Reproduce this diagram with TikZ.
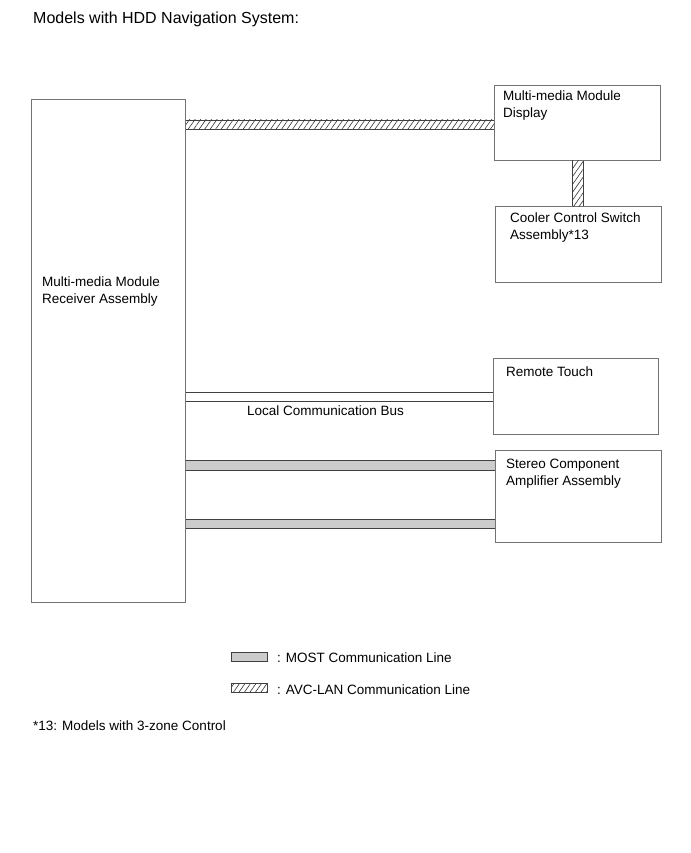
\documentclass[tikz,border=0pt]{standalone}
\usepackage{fontspec}
\setmainfont{Liberation Sans}
\usetikzlibrary{patterns,patterns.meta,calc}
\begin{document}
\begin{tikzpicture}[x=1pt,y=-1pt,
  box/.style={draw=black!55, line width=0.8pt, anchor=north west, inner sep=0pt},
  lbl/.style={anchor=north west, inner sep=0pt, font=\fontsize{13.5}{16.5}\selectfont, align=left},
  txt/.style={anchor=base west, inner sep=0pt, font=\fontsize{13.5}{16.5}\selectfont},
  wire/.style={draw=black!75, line width=0.9pt},
  most/.style={fill=black!20},
  avc/.style={pattern={Lines[angle=55, distance=4.5pt, line width=0.6pt]}, pattern color=black!80}]
\useasboundingbox (0,0) rectangle (690,853);
\node[anchor=base west, inner sep=0pt, font=\fontsize{16}{18}\selectfont] (title) at (33,23.8) {Models with HDD Navigation System:};
% boxes
\node[box, minimum width=154pt, minimum height=503pt] (rec) at (31,99) {};
\node[box, minimum width=166pt, minimum height=75pt] (disp) at (494,85) {};
\node[box, minimum width=166pt, minimum height=76pt] (cool) at (495,206) {};
\node[box, minimum width=165pt, minimum height=76pt] (rt) at (493,358) {};
\node[box, minimum width=166pt, minimum height=92pt] (st) at (495,450) {};
% labels
\node[lbl] (recl) at (42,277) {Multi-media Module\\Receiver Assembly};
\node[lbl] (displ) at (503,91) {Multi-media Module\\Display};
\node[lbl] (cooll) at (510,213) {Cooler Control Switch\\Assembly*13};
\node[txt] (rtl) at (506,376) {Remote Touch};
\node[lbl] (stl) at (506,459) {Stereo Component\\Amplifier Assembly};
% AVC horizontal
\coordinate (a1) at (rec.east |- 0,120);
\coordinate (a2) at (disp.west |- 0,129);
\path[avc] (a1) rectangle (a2);
\draw[wire] (a1) -- (a1 -| a2);
\draw[wire] (a2 -| a1) -- (a2);
% AVC vertical
\coordinate (v1) at (572,0 |- disp.south);
\coordinate (v2) at (583,0 |- cool.north);
\path[avc] (v1) rectangle (v2);
\draw[wire] (v1) -- (v1 |- v2);
\draw[wire] (v2 |- v1) -- (v2);
% local bus
\draw[wire] (rec.east |- 0,392) -- (rt.west |- 0,392);
\draw[wire] (rec.east |- 0,401) -- (rt.west |- 0,401);
\node[txt] (lcb) at (247,415) {Local Communication Bus};
% MOST lines
\coordinate (m1) at (rec.east |- 0,460);
\coordinate (m2) at (st.west |- 0,470);
\path[most] (m1) rectangle (m2);
\draw[wire] (m1) -- (m1 -| m2);
\draw[wire] (m2 -| m1) -- (m2);
\coordinate (n1) at (rec.east |- 0,519);
\coordinate (n2) at (st.west |- 0,528);
\path[most] (n1) rectangle (n2);
\draw[wire] (n1) -- (n1 -| n2);
\draw[wire] (n2 -| n1) -- (n2);
% legend
\node[draw=black!75, line width=0.8pt, fill=black!20, minimum width=36pt, minimum height=9pt, inner sep=0pt, anchor=north west] (lg1) at (231,652) {};
\node[txt] (lg1t) at (277,662) {: MOST Communication Line};
\node[draw=black!75, line width=0.8pt, avc, minimum width=36pt, minimum height=9pt, inner sep=0pt, anchor=north west] (lg2) at (231,683) {};
\node[txt] (lg2t) at (277,694) {: AVC-LAN Communication Line};
\node[txt] (fn) at (33,730) {*13: Models with 3-zone Control};
\end{tikzpicture}
\end{document}
